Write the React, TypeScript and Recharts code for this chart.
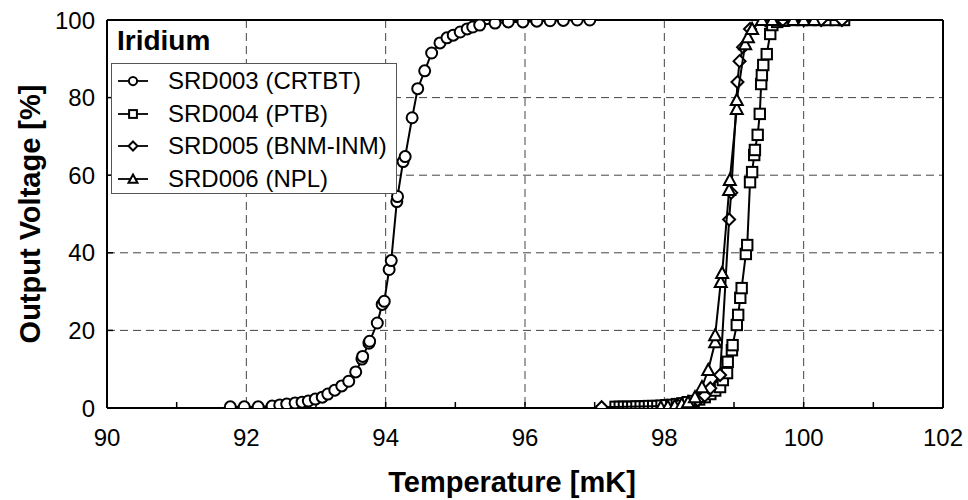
import React from 'react'
import { ScatterChart, Scatter, XAxis, YAxis, CartesianGrid, ReferenceLine, Legend, Label } from 'recharts'

const FONT = '"Liberation Sans", Arial, Helvetica, sans-serif'

// [temperature mK, output voltage %]
const srd003: [number, number][] = [
  [91.77, 0.3], [91.97, 0.3], [92.17, 0.3], [92.37, 0.5], [92.48, 0.8], [92.58, 1.0], [92.7, 1.3],
  [92.8, 1.5], [92.89, 1.8], [92.99, 2.3], [93.09, 2.8], [93.17, 3.6], [93.27, 4.6], [93.37, 5.7],
  [93.47, 6.9], [93.57, 9.3], [93.66, 12.6], [93.67, 13.3], [93.76, 16.7], [93.77, 17.2], [93.88, 21.9],
  [93.95, 26.7], [93.98, 27.5], [94.05, 35.7], [94.08, 38.0], [94.16, 53.2], [94.17, 54.5], [94.25, 63.5],
  [94.28, 64.8], [94.38, 74.8], [94.46, 82.3], [94.56, 86.9], [94.66, 91.5], [94.78, 94.1], [94.88, 95.4],
  [94.97, 96.1], [95.07, 96.9], [95.17, 97.7], [95.25, 98.2], [95.35, 98.7], [95.57, 99.2], [95.76, 99.5],
  [95.97, 99.5], [96.17, 99.7], [96.36, 99.8], [96.55, 99.9], [96.75, 100], [96.93, 100],
]

const srd004: [number, number][] = [
  [97.3, 0.3], [97.36, 0.3], [97.42, 0.3], [97.48, 0.3], [97.54, 0.3], [97.6, 0.4], [97.66, 0.4],
  [97.72, 0.4], [97.78, 0.5], [97.84, 0.5], [97.9, 0.5], [97.96, 0.6], [98.03, 0.7], [98.1, 0.8],
  [98.18, 1.0], [98.26, 1.2], [98.34, 1.5], [98.42, 1.8], [98.5, 2.2], [98.58, 2.8], [98.66, 3.6],
  [98.73, 4.5], [98.8, 5.4], [98.84, 7.2], [98.9, 9.0], [98.91, 11.9], [98.97, 14.9], [98.98, 16.2],
  [99.04, 21.4], [99.06, 24.0], [99.09, 28.4], [99.11, 30.9], [99.17, 39.7], [99.19, 42.0], [99.23, 58.2],
  [99.26, 60.8], [99.29, 65.2], [99.3, 66.5], [99.34, 70.4], [99.37, 75.8], [99.39, 83.5], [99.4, 85.8],
  [99.42, 88.4], [99.47, 91.2], [99.52, 96.4], [99.55, 98.7], [99.62, 99.5], [99.72, 99.8], [99.85, 100],
  [99.98, 100], [100.1, 100], [100.22, 100], [100.34, 100], [100.46, 100], [100.58, 100],
]

const srd005: [number, number][] = [
  [97.1, 0.2], [98.2, 0.6], [98.36, 1.1], [98.48, 2.0], [98.58, 3.2], [98.66, 5.1], [98.8, 8.5],
  [98.93, 48.6], [98.96, 55.5], [99.05, 84.0], [99.08, 89.4], [99.13, 93.0], [99.23, 97.7],
  [99.45, 100], [99.7, 100], [100.0, 100], [100.25, 100], [100.55, 100],
]

const srd006: [number, number][] = [
  [97.95, 0.2], [98.05, 0.4], [98.15, 0.6], [98.25, 1.0], [98.34, 1.5], [98.44, 2.8], [98.54, 5.4],
  [98.63, 9.8], [98.73, 17.0], [98.73, 18.8], [98.81, 32.5], [98.83, 34.8], [98.93, 56.2], [98.94, 58.8],
  [99.04, 77.1], [99.04, 79.4], [99.16, 93.8], [99.2, 95.6], [99.26, 97.7], [99.4, 100], [99.55, 100],
  [99.85, 100], [100.0, 100], [100.15, 100],
]

const xTicks = [90, 91, 92, 93, 94, 95, 96, 97, 98, 99, 100, 101, 102]
const xGrid = [90, 92, 94, 96, 98, 100, 102]
const yTicks = [0, 20, 40, 60, 80, 100]

type Shape = 'circle' | 'square' | 'diamond' | 'triangle'

const series: { name: string; shape: Shape; data: [number, number][] }[] = [
  { name: 'SRD003 (CRTBT)', shape: 'circle', data: srd003 },
  { name: 'SRD004 (PTB)', shape: 'square', data: srd004 },
  { name: 'SRD005 (BNM-INM)', shape: 'diamond', data: srd005 },
  { name: 'SRD006 (NPL)', shape: 'triangle', data: srd006 },
]

function Marker({ shape, cx, cy, s = 1 }: { shape: Shape; cx: number; cy: number; s?: number }) {
  const common = { fill: '#fff', stroke: '#000', strokeWidth: 2 }
  if (shape === 'circle') return <circle cx={cx} cy={cy} r={5.5 * s} {...common} />
  if (shape === 'square') return <rect x={cx - 5.2 * s} y={cy - 5.2 * s} width={10.4 * s} height={10.4 * s} {...common} />
  if (shape === 'diamond') {
    const d = 6 * s
    return <polygon points={`${cx},${cy - d} ${cx + d},${cy} ${cx},${cy + d} ${cx - d},${cy}`} {...common} />
  }
  const h = 6 * s
  return <polygon points={`${cx},${cy - h} ${cx + h},${cy + h * 0.85} ${cx - h},${cy + h * 0.85}`} {...common} />
}

function LegendBox() {
  return (
    <div style={{ fontFamily: FONT, color: '#000' }}>
      <div style={{ fontWeight: 'bold', fontSize: 28, lineHeight: '32px', height: 38, paddingLeft: 6 }}>Iridium</div>
      <div style={{ width: 286, border: '1px solid #555', background: '#fff', paddingTop: 1, boxSizing: 'border-box', height: 131 }}>
        {series.map((s) => (
          <div key={s.name} style={{ height: 32.5, display: 'flex', alignItems: 'center' }}>
            <svg width={50} height={20} style={{ flex: 'none' }}>
              <line x1={6} x2={36} y1={10} y2={10} stroke="#000" strokeWidth={1.8} />
              <Marker shape={s.shape} cx={21} cy={10} s={0.75} />
            </svg>
            <span style={{ fontSize: 24, marginLeft: 6, whiteSpace: 'nowrap' }}>{s.name}</span>
          </div>
        ))}
      </div>
    </div>
  )
}

const tickStyle = { fill: '#000', fontSize: 24, fontFamily: FONT }

export default function App() {
  return (
    <div style={{ position: 'absolute', left: 0, top: 0, width: 968, height: 500, background: '#fff' }}>
      <ScatterChart width={968} height={500} margin={{ top: 20, right: 25, bottom: 0, left: 0 }}>
        <CartesianGrid stroke="#444" strokeDasharray="8 5" strokeWidth={1} verticalValues={xGrid} />
        <XAxis
          type="number"
          dataKey="x"
          domain={[90, 102]}
          ticks={xTicks}
          interval={0}
          tickFormatter={(v: number) => (v % 2 === 0 ? String(v) : '')}
          tick={tickStyle}
          tickSize={-6}
          tickMargin={27}
          axisLine={{ stroke: '#000', strokeWidth: 2 }}
          tickLine={{ stroke: '#000', strokeWidth: 1.5 }}
          height={92}
          allowDataOverflow
        >
          <Label
            content={({ viewBox }: any) => (
              <text
                x={viewBox.x + viewBox.width / 2 - 13}
                y={viewBox.y + 84}
                textAnchor="middle"
                fontFamily={FONT}
                fontWeight="bold"
                fontSize={29}
                fill="#000"
              >
                Temperature [mK]
              </text>
            )}
          />
        </XAxis>
        <YAxis
          type="number"
          dataKey="y"
          domain={[0, 100]}
          ticks={yTicks}
          interval={0}
          tick={tickStyle}
          tickSize={-6}
          tickMargin={18}
          axisLine={{ stroke: '#000', strokeWidth: 2 }}
          tickLine={{ stroke: '#000', strokeWidth: 1.5 }}
          width={107}
          allowDataOverflow
        >
          <Label
            content={({ viewBox }: any) => {
              const cx = viewBox.x + 30
              const cy = viewBox.y + viewBox.height / 2
              return (
                <text
                  x={cx}
                  y={cy}
                  transform={`rotate(-90 ${cx} ${cy})`}
                  textAnchor="middle"
                  dominantBaseline="central"
                  fontFamily={FONT}
                  fontWeight="bold"
                  fontSize={29}
                  fill="#000"
                >
                  Output Voltage [%]
                </text>
              )
            }}
          />
        </YAxis>
        <ReferenceLine y={100} stroke="#000" strokeWidth={2} />
        <ReferenceLine x={102} stroke="#000" strokeWidth={2} />
        {series.map((s) => (
          <Scatter
            key={s.name}
            name={s.name}
            data={s.data.map(([x, y]) => ({ x, y }))}
            line={{ stroke: '#000', strokeWidth: 2 }}
            lineType="joint"
            shape={(p: any) => <Marker shape={s.shape} cx={p.cx} cy={p.cy} />}
            isAnimationActive={false}
          />
        ))}
        <Legend
          layout="horizontal"
          verticalAlign="middle"
          align="center"
          wrapperStyle={{ top: 25, left: 111, width: 300 }}
          content={() => <LegendBox />}
        />
      </ScatterChart>
    </div>
  )
}
